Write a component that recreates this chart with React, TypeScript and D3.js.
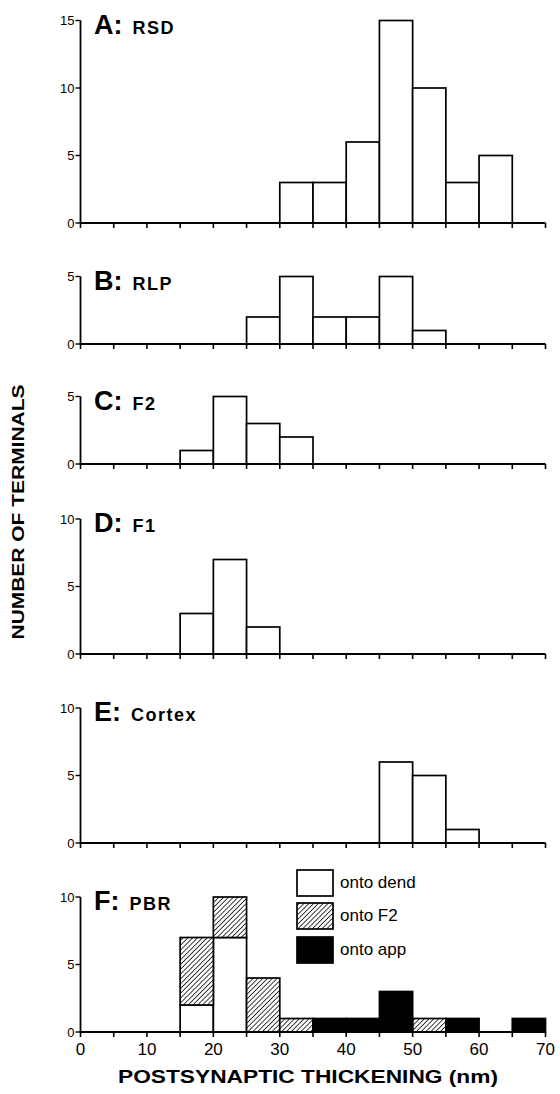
import * as d3 from 'd3';

// bin starts (nm), each bin is 5 nm wide
const binStarts = [0, 5, 10, 15, 20, 25, 30, 35, 40, 45, 50, 55, 60, 65];

// counts per bin
const rsd = [0, 0, 0, 0, 0, 0, 3, 3, 6, 15, 10, 3, 5, 0];
const rlp = [0, 0, 0, 0, 0, 2, 5, 2, 2, 5, 1, 0, 0, 0];
const f2 = [0, 0, 0, 1, 5, 3, 2, 0, 0, 0, 0, 0, 0, 0];
const f1 = [0, 0, 0, 3, 7, 2, 0, 0, 0, 0, 0, 0, 0, 0];
const cortex = [0, 0, 0, 0, 0, 0, 0, 0, 0, 6, 5, 1, 0, 0];

// PBR, split by postsynaptic target
const pbrDend = [0, 0, 0, 2, 7, 0, 0, 0, 0, 0, 0, 0, 0, 0];
const pbrF2 = [0, 0, 0, 5, 3, 4, 1, 0, 0, 0, 1, 0, 0, 0];
const pbrApp = [0, 0, 0, 0, 0, 0, 0, 1, 1, 3, 0, 1, 0, 1];

const legendLabels = ['onto dend', 'onto F2', 'onto app'];
const xTickLabels = [0, 10, 20, 30, 40, 50, 60, 70];
const ticks15 = [0, 5, 10, 15];
const ticks10 = [0, 5, 10];
const ticks5 = [0, 5];

const FONT = '"Liberation Sans", Arial, Helvetica, sans-serif';
const UNIT = 13.5; // px per terminal

const x = d3.scaleLinear().domain([0, 70]).range([80.5, 545.5]);

const panels = [
  { letter: 'A:', name: 'RSD', values: rsd, max: 15, ticks: ticks15, base: 223 },
  { letter: 'B:', name: 'RLP', values: rlp, max: 5, ticks: ticks5, base: 344 },
  { letter: 'C:', name: 'F2', values: f2, max: 5, ticks: ticks5, base: 464 },
  { letter: 'D:', name: 'F1', values: f1, max: 10, ticks: ticks10, base: 654 },
  { letter: 'E:', name: 'Cortex', values: cortex, max: 10, ticks: ticks10, base: 843 },
  { letter: 'F:', name: 'PBR', values: null, max: 10, ticks: ticks10, base: 1032 },
];

const fills = ['#fff', 'url(#hatch)', '#000'];

function Panel({ p, last }: { p: any; last: boolean }) {
  const y = d3.scaleLinear().domain([0, p.max]).range([p.base, p.base - p.max * UNIT]);

  let bars: any[] = [];
  if (p.values) {
    bars = binStarts
      .map((b, i) => ({ x0: b, y0: 0, y1: p.values[i], fill: '#fff' }))
      .filter((d) => d.y1 > 0);
  } else {
    const rows = binStarts.map((b, i) => ({ b, dend: pbrDend[i], f2: pbrF2[i], app: pbrApp[i] }));
    const series = d3.stack<any>().keys(['dend', 'f2', 'app'])(rows);
    series.forEach((s, k) =>
      s.forEach((d) => {
        if (d[1] > d[0]) bars.push({ x0: d.data.b, y0: d[0], y1: d[1], fill: fills[k] });
      })
    );
  }

  const xTicks = d3.range(0, 71, 5);

  return (
    <g>
      {bars.map((d, i) => (
        <rect
          key={i}
          x={x(d.x0)}
          y={y(d.y1)}
          width={x(d.x0 + 5) - x(d.x0)}
          height={y(d.y0) - y(d.y1)}
          fill={d.fill}
          stroke="#000"
          strokeWidth={1.7}
        />
      ))}
      {/* y axis */}
      <line x1={x(0)} x2={x(0)} y1={y(0)} y2={y(p.max)} stroke="#000" strokeWidth={1.8} />
      {p.ticks.map((t: number) => (
        <g key={t}>
          <line x1={x(0) - 5} x2={x(0)} y1={y(t)} y2={y(t)} stroke="#000" strokeWidth={1.4} />
          <text
            x={x(0) - 6}
            y={y(t) + 4.5}
            textAnchor="end"
            fontFamily={FONT}
            fontSize={13}
          >
            {t}
          </text>
        </g>
      ))}
      {/* x axis */}
      <line x1={x(0)} x2={x(70)} y1={y(0)} y2={y(0)} stroke="#000" strokeWidth={2} />
      {xTicks.map((t) => (
        <line key={t} x1={x(t)} x2={x(t)} y1={y(0)} y2={y(0) + 5} stroke="#000" strokeWidth={1.6} />
      ))}
      {last &&
        xTickLabels.map((t) => (
          <text key={t} x={x(t)} y={y(0) + 23} textAnchor="middle" fontFamily={FONT} fontSize={17}>
            {t}
          </text>
        ))}
      {/* panel title */}
      <text x={94} y={y(p.max) + 13} fontFamily={FONT} fontWeight="bold">
        <tspan fontSize={27}>{p.letter}</tspan>
        <tspan dx={10} fontSize={18} letterSpacing={1.5}>
          {p.name}
        </tspan>
      </text>
    </g>
  );
}

export default function App() {
  const legendY = [870, 903, 937];
  return (
    <svg
      width={560}
      height={1094}
      style={{ position: 'absolute', left: 0, top: 0, background: '#fff' }}
    >
      <defs>
        <pattern id="hatch" width={3.4} height={3.4} patternUnits="userSpaceOnUse" patternTransform="rotate(45)">
          <rect width={3.4} height={3.4} fill="#fff" />
          <line x1={0} y1={0} x2={0} y2={3.4} stroke="#000" strokeWidth={1.5} />
        </pattern>
      </defs>
      {panels.map((p, i) => (
        <Panel key={p.letter} p={p} last={i === panels.length - 1} />
      ))}

      {/* legend */}
      {legendLabels.map((l, i) => (
        <g key={l}>
          <rect x={297} y={legendY[i]} width={36} height={26} fill={fills[i]} stroke="#000" strokeWidth={1.7} />
          <text x={340} y={legendY[i] + 18} fontFamily={FONT} fontSize={17}>
            {l}
          </text>
        </g>
      ))}

      <text
        x={18}
        y={512}
        transform="rotate(-90 18 512)"
        dy={6}
        textAnchor="middle"
        fontFamily={FONT}
        fontWeight="bold"
        fontSize={17}
        textLength={255}
        lengthAdjust="spacingAndGlyphs"
      >
        NUMBER OF TERMINALS
      </text>
      <text
        x={308}
        y={1083}
        textAnchor="middle"
        fontFamily={FONT}
        fontWeight="bold"
        fontSize={19}
        textLength={380}
        lengthAdjust="spacingAndGlyphs"
      >
        POSTSYNAPTIC THICKENING (nm)
      </text>
    </svg>
  );
}
